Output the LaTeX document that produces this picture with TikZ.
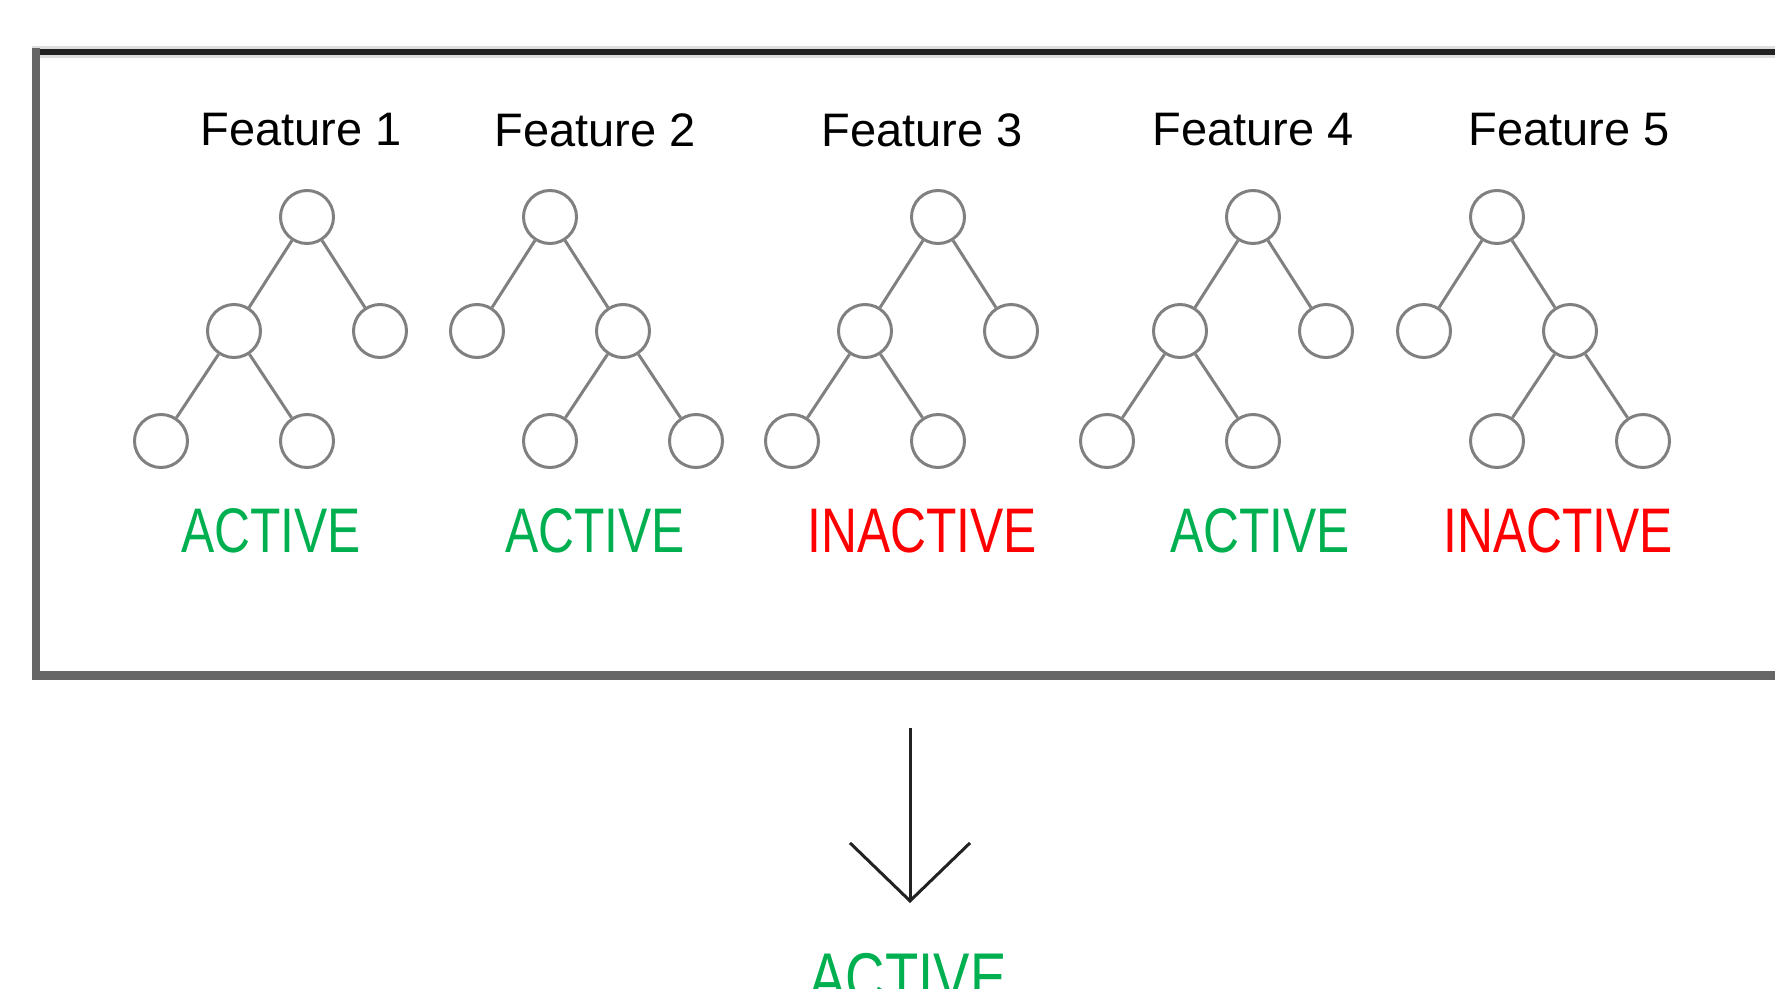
\documentclass[tikz,border=0pt]{standalone}
\usepackage{fontspec}
\usepackage{graphicx}
\setmainfont{Liberation Sans}
\usetikzlibrary{arrows.meta}
\definecolor{okgreen}{RGB}{0,176,80}
\definecolor{badred}{RGB}{255,0,0}
\definecolor{edgegray}{RGB}{128,128,128}
\definecolor{framedark}{RGB}{34,34,34}
\definecolor{frameside}{RGB}{102,102,102}
\definecolor{framehalo}{RGB}{222,222,222}

% condensed status lettering
\newcommand\squeezed[1]{\scalebox{0.79}[1]{#1}}

% tree whose left child branches: #1 prefix, #2 root x
\newcommand\lefttree[2]{%
  \node[leaf] (#1r) at (#2,217) {};
  \node[leaf] (#1m) at (#2-73,331) {};
  \node[leaf] (#1s) at (#2+73,331) {};
  \node[leaf] (#1a) at (#2-146,441) {};
  \node[leaf] (#1b) at (#2,441) {};
  \draw[link] (#1r) -- (#1m);
  \draw[link] (#1r) -- (#1s);
  \draw[link] (#1m) -- (#1a);
  \draw[link] (#1m) -- (#1b);
}
% tree whose right child branches: #1 prefix, #2 root x
\newcommand\righttree[2]{%
  \node[leaf] (#1r) at (#2,217) {};
  \node[leaf] (#1s) at (#2-73,331) {};
  \node[leaf] (#1m) at (#2+73,331) {};
  \node[leaf] (#1a) at (#2,441) {};
  \node[leaf] (#1b) at (#2+146,441) {};
  \draw[link] (#1r) -- (#1s);
  \draw[link] (#1r) -- (#1m);
  \draw[link] (#1m) -- (#1a);
  \draw[link] (#1m) -- (#1b);
}

\begin{document}
\begin{tikzpicture}[x=1pt,y=-1pt,
  leaf/.style={circle, draw=edgegray, line width=3pt, minimum size=53pt, inner sep=0pt},
  link/.style={draw=edgegray, line width=3pt},
  title/.style={font=\fontsize{47}{52}\selectfont, text=black, inner sep=0pt},
  status/.style={font=\fontsize{63}{68}\selectfont, inner sep=0pt},
  outcome/.style={font=\fontsize{69}{74}\selectfont, inner sep=0pt},
  flow/.style={draw=framedark, line width=3pt, -{Straight Barb[length=58pt,width=120pt]}},
]
\useasboundingbox (0,0) rectangle (1775,988);
\clip (0,0) rectangle (1775,988);

% panel frame, open to the right
\draw[framehalo, line width=12pt] (32,51.5) -- (1800,51.5);
\draw[framedark, line width=6pt] (32,51.5) -- (1800,51.5);
\draw[frameside, line width=8pt] (36,48) -- (36,680);
\draw[frameside, line width=9pt] (32,675) -- (1800,675);

% feature titles
\node[title] (f1) at (301,130) {Feature 1};
\node[title] (f2) at (595,130) {Feature 2};
\node[title] (f3) at (922,130) {Feature 3};
\node[title] (f4) at (1253,130) {Feature 4};
\node[title] (f5) at (1569,130) {Feature 5};

% trees
\lefttree{t1}{307}
\righttree{t2}{550}
\lefttree{t3}{938}
\lefttree{t4}{1253}
\righttree{t5}{1497}

% per-feature status
\node[status, text=okgreen] (s1) at (271,531) {\squeezed{ACTIVE}};
\node[status, text=okgreen] (s2) at (595,531) {\squeezed{ACTIVE}};
\node[status, text=badred] (s3) at (922,531) {\squeezed{INACTIVE}};
\node[status, text=okgreen] (s4) at (1260,531) {\squeezed{ACTIVE}};
\node[status, text=badred] (s5) at (1558,531) {\squeezed{INACTIVE}};

% combined result
\coordinate (flowstart) at (910,728);
\coordinate (flowend) at (910,903);
\node[outcome, text=okgreen, anchor=north] (result) at (908,953) {\squeezed{ACTIVE}};
\draw[flow] (flowstart) -- (flowend);
\end{tikzpicture}
\end{document}
